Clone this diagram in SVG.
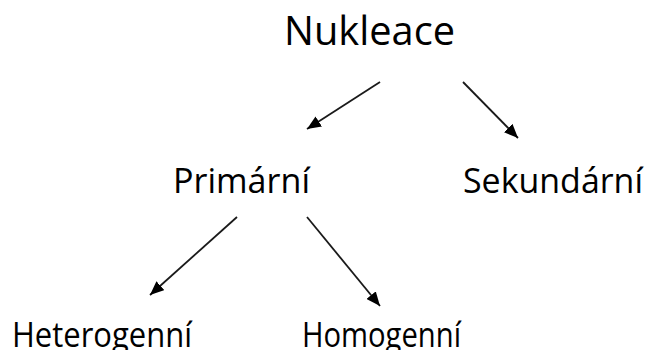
<svg xmlns="http://www.w3.org/2000/svg" width="650" height="350" viewBox="0 0 650 350">
<style>
text{font-family:"Open Sans","Noto Sans",sans-serif;fill:#000}
.big{font-size:41px}
.mid{font-size:35px}
line{stroke:#1a1a1a;stroke-width:1.8}
</style>
<defs>
<marker id="ah" viewBox="0 0 14 12" refX="14" refY="6" markerWidth="14" markerHeight="12" orient="auto" markerUnits="userSpaceOnUse">
<path d="M0,0 L14,6 L0,12 z" fill="#000"/>
</marker>
</defs>
<rect width="650" height="350" fill="#fff"/>
<g id="connectors">
<line x1="380" y1="82" x2="307" y2="129" marker-end="url(#ah)"/>
<line x1="463" y1="82" x2="518" y2="138" marker-end="url(#ah)"/>
<line x1="237" y1="217" x2="150" y2="295" marker-end="url(#ah)"/>
<line x1="307" y1="217" x2="380" y2="306" marker-end="url(#ah)"/>
</g>
<g id="n-nukleace"><text class="big" x="284" y="45" textLength="171" lengthAdjust="spacingAndGlyphs">Nukleace</text></g>
<g id="n-primarni"><text class="mid" x="173" y="193" textLength="137" lengthAdjust="spacingAndGlyphs">Primární</text></g>
<g id="n-sekundarni"><text class="mid" x="463" y="193" textLength="180" lengthAdjust="spacingAndGlyphs">Sekundární</text></g>
<g id="n-heterogenni"><text class="mid" x="12" y="347" textLength="180" lengthAdjust="spacingAndGlyphs">Heterogenní</text></g>
<g id="n-homogenni"><text class="mid" x="302" y="347" textLength="159" lengthAdjust="spacingAndGlyphs">Homogenní</text></g>
</svg>
